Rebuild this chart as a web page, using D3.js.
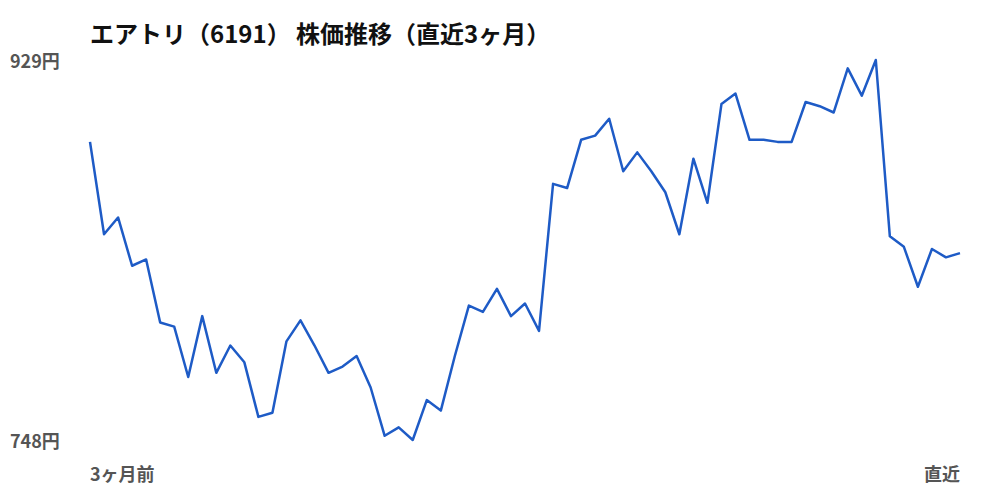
<!DOCTYPE html>
<html>
<head>
<meta charset="utf-8">
<script src="https://cdn.jsdelivr.net/npm/d3@7"></script>
<style>
  body { margin: 0; background: #fff; }
  svg text { font-family: "Noto Sans CJK JP", "Noto Sans", sans-serif; }
</style>
</head>
<body>
<svg id="chart" width="1000" height="500"></svg>
<script>
// エアトリ 終値 (直近3ヶ月, 読み取り値)
var prices = [
  890, 846, 854, 831, 834, 804, 802, 778, 807, 780,
  793, 785, 759, 761, 795, 805, 793, 780, 783, 788,
  773, 750, 754, 748, 767, 762, 788, 812, 809, 820,
  807, 813, 800, 870, 868, 891, 893, 901, 876, 885,
  876, 866, 846, 882, 861, 908, 913, 891, 891, 890,
  890, 909, 907, 904, 925, 912, 929, 845, 840, 821,
  839, 835, 837
];
var titleText = "エアトリ（6191） 株価推移（直近3ヶ月）";
var xLabels = ["3ヶ月前", "直近"];

var svg = d3.select("#chart");
var plotLeft = 90, plotRight = 960, plotTop = 60, plotBottom = 440;

var x = d3.scaleLinear()
  .domain([0, prices.length - 1])
  .range([plotLeft, plotRight]);
var yMin = d3.min(prices), yMax = d3.max(prices);
var y = d3.scaleLinear()
  .domain([yMin, yMax])
  .range([plotBottom, plotTop]);

svg.append("text")
  .attr("x", plotLeft)
  .attr("y", 43)
  .attr("font-size", 24)
  .attr("font-weight", "bold")
  .attr("fill", "#111")
  .text(titleText);

// y端の価格ラベル
svg.selectAll(".ylab")
  .data([yMax, yMin])
  .enter().append("text")
  .attr("class", "ylab")
  .attr("x", 10)
  .attr("y", function(d) { return y(d) + 8; })
  .attr("font-size", 18)
  .attr("font-weight", "bold")
  .attr("fill", "#555")
  .text(function(d) { return d + "円"; });

svg.selectAll(".xlab")
  .data(xLabels)
  .enter().append("text")
  .attr("class", "xlab")
  .attr("x", function(d, i) { return i === 0 ? x(0) : x(prices.length - 1); })
  .attr("y", 481)
  .attr("text-anchor", function(d, i) { return i === 0 ? "start" : "end"; })
  .attr("font-size", 18)
  .attr("font-weight", "bold")
  .attr("fill", "#555")
  .text(function(d) { return d; });

var line = d3.line()
  .x(function(d, i) { return x(i); })
  .y(function(d) { return y(d); });

svg.append("path")
  .datum(prices)
  .attr("fill", "none")
  .attr("stroke", "#1e5bc6")
  .attr("stroke-width", 2.5)
  .attr("stroke-linejoin", "round")
  .attr("d", line);
</script>
</body>
</html>
